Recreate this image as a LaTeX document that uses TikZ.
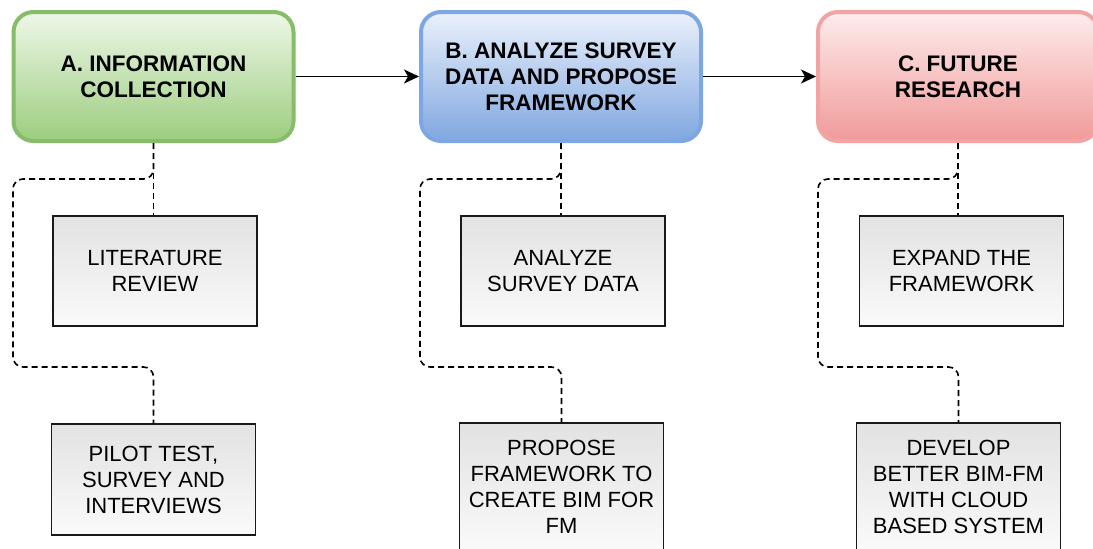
\documentclass[tikz,border=0pt]{standalone}
\usepackage{fontspec}
\setmainfont{Liberation Sans}
\usetikzlibrary{arrows.meta}

\definecolor{greenTop}{HTML}{EEF7E8}
\definecolor{greenBot}{HTML}{9CCD7E}
\definecolor{greenLine}{HTML}{86BC6A}
\definecolor{blueTop}{HTML}{EAF1FB}
\definecolor{blueBot}{HTML}{80A7E0}
\definecolor{blueLine}{HTML}{7DA7E3}
\definecolor{redTop}{HTML}{FDECEC}
\definecolor{redBot}{HTML}{F09A99}
\definecolor{redLine}{HTML}{F2A3A3}
\definecolor{taskTop}{HTML}{E2E2E2}

\tikzset{
  phase/.style={rectangle, rounded corners=20pt, line width=4pt,
    minimum width=280pt, minimum height=129pt, inner sep=0pt,
    align=center, font=\fontsize{22.5}{26}\selectfont\bfseries},
  task/.style={rectangle, draw=black!90, line width=1.5pt,
    top color=taskTop, bottom color=white!98!black,
    minimum width=204pt, minimum height=110pt, inner sep=0pt,
    align=center, font=\fontsize{22}{26}\selectfont},
  link/.style={dashed, dash pattern=on 6pt off 4pt, line width=1.6pt,
    rounded corners=10pt},
  flow/.style={-{Stealth[length=15pt,width=14pt,inset=4pt]}, line width=1.6pt}
}

\begin{document}
\begin{tikzpicture}[x=1pt, y=-1pt]
\useasboundingbox (0,0) rectangle (1093,549);

% phases
\node [phase, draw=greenLine, top color=greenTop, bottom color=greenBot] (infoA) at (153.5,76.5) {A. INFORMATION\\COLLECTION};
\node [phase, draw=blueLine, top color=blueTop, bottom color=blueBot] (surveyB) at (561,76.5) {B. ANALYZE SURVEY\\DATA AND PROPOSE\\FRAMEWORK};
\node [phase, draw=redLine, top color=redTop, bottom color=redBot] (futureC) at (958,76.5) {C. FUTURE\\RESEARCH};

\draw [flow] (infoA.east) -- (surveyB.west);
\draw [flow] (surveyB.east) -- (futureC.west);

% tasks
\node [task] (litrev) at (155,271) {LITERATURE\\REVIEW};
\node [task, minimum height=111pt] (pilot) at (153.5,479.5) {PILOT TEST,\\SURVEY AND\\INTERVIEWS};
\node [task] (analyze) at (563,271) {ANALYZE\\SURVEY DATA};
\node [task, minimum height=128pt] (propose) at (561.5,487) {PROPOSE\\FRAMEWORK TO\\CREATE BIM FOR\\FM};
\node [task] (expand) at (961.5,271) {EXPAND THE\\FRAMEWORK};
\node [task, minimum height=128pt] (develop) at (958.5,487) {DEVELOP\\BETTER BIM-FM\\WITH CLOUD\\BASED SYSTEM};

% dashed links
\coordinate (aL) at (13,179);
\coordinate (aR) at (pilot.north |- 0,367);
\draw [link] (infoA.south) -- (infoA.south |- litrev.north);
\draw [link] (infoA.south) |- (aL) |- (aR) -- (pilot.north);

\coordinate (bL) at (420,179);
\coordinate (bR) at (propose.north |- 0,367);
\draw [link] (surveyB.south) -- (surveyB.south |- analyze.north);
\draw [link] (surveyB.south) |- (bL) |- (bR) -- (propose.north);

\coordinate (cL) at (818,179);
\coordinate (cR) at (develop.north |- 0,367);
\draw [link] (futureC.south) -- (futureC.south |- expand.north);
\draw [link] (futureC.south) |- (cL) |- (cR) -- (develop.north);
\end{tikzpicture}
\end{document}
